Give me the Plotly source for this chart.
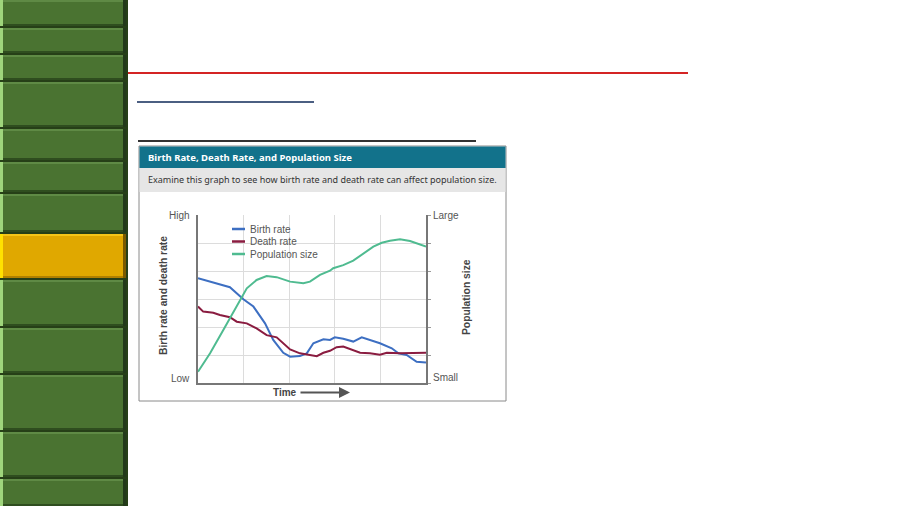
import plotly.graph_objects as go

W, H = 900, 506

# ---- data (x = time 0-100, y = relative level 0-6) ----
birth_x = [0, 8.2, 14.0, 19.9, 24.3, 29.4, 33.0, 37.4, 40.4, 44.7, 47.7, 50.6, 55.0, 57.9,
           60.0, 63.7, 68.1, 71.8, 75.4, 79.8, 85.0, 87.9, 91.5, 95.9, 100]
birth_y = [3.74, 3.56, 3.42, 2.99, 2.73, 2.13, 1.54, 1.08, 0.94, 0.96, 1.06, 1.42, 1.56, 1.54,
           1.63, 1.58, 1.48, 1.63, 1.54, 1.42, 1.24, 1.06, 1.00, 0.76, 0.73]

death_x = [0, 2.3, 6.7, 9.6, 14.0, 17.0, 21.4, 25.7, 30.1, 34.5, 40.4, 44.7, 52.1, 55.0,
           57.9, 60.8, 63.7, 66.7, 71.1, 75.4, 79.8, 82.8, 88.6, 100]
death_y = [2.73, 2.55, 2.51, 2.43, 2.35, 2.19, 2.13, 1.95, 1.71, 1.63, 1.20, 1.06, 0.96, 1.08,
           1.15, 1.28, 1.30, 1.20, 1.08, 1.06, 1.01, 1.08, 1.06, 1.08]

pop_x = [0, 5.3, 11.1, 17.0, 21.4, 25.7, 30.1, 34.5, 40.4, 46.2, 49.1, 53.5, 57.9, 59.3,
         63.7, 68.1, 72.5, 76.9, 80.6, 84.2, 88.6, 93.0, 100]
pop_y = [0.40, 1.06, 1.89, 2.73, 3.38, 3.68, 3.82, 3.78, 3.62, 3.56, 3.62, 3.86, 4.01, 4.10,
         4.21, 4.37, 4.63, 4.87, 5.01, 5.08, 5.13, 5.07, 4.87]

series_names = ["Birth rate", "Death rate", "Population size"]
series_colors = ["#3d6fc2", "#8a1c40", "#4fbb90"]

left_labels = ["High", "Low"]
right_labels = ["Large", "Small"]
title_text = "Birth Rate, Death Rate, and Population Size"
subtitle_text = "Examine this graph to see how birth rate and death rate can affect population size."

# sidebar button extents (pixels)
buttons = [(0, 26), (28, 53), (55, 80), (82, 127), (129, 160), (162, 192), (194, 232),
           (234, 278), (280, 326), (328, 373), (375, 430), (432, 477), (479, 506)]
active_button = 7


def px(x):
    return x / W


def py(y):
    return 1 - y / H


shapes = []
annotations = []


def rect(x0, y0, x1, y1, fill, line=None, lw=0, layer="above"):
    shapes.append(dict(type="rect", xref="paper", yref="paper",
                       x0=px(x0), x1=px(x1), y0=py(y1), y1=py(y0),
                       fillcolor=fill, line=dict(color=line or fill, width=lw), layer=layer))


def hline(x0, x1, y, color, w):
    shapes.append(dict(type="line", xref="paper", yref="paper",
                       x0=px(x0), x1=px(x1), y0=py(y), y1=py(y),
                       line=dict(color=color, width=w)))


def text(x, y, s, size, color, xanchor="left", bold=False, angle=0, family="Liberation Sans"):
    annotations.append(dict(xref="paper", yref="paper", x=px(x), y=py(y), text=("<b>%s</b>" % s) if bold else s,
                            showarrow=False, xanchor=xanchor, yanchor="middle", textangle=angle,
                            font=dict(size=size, color=color, family=family)))


# ---- sidebar ----
rect(0, 0, 128, 506, "#263f17", layer="below")
for i, (y0, y1) in enumerate(buttons):
    if i == active_button:
        base, hi, lo, side = "#e0a800", "#f5c518", "#b08000", "#ffe100"
    else:
        base, hi, lo, side = "#4a7331", "#5f8a45", "#2f4d1f", "#9fd57c"
    rect(0, y0, 126, y1, base, layer="below")
    rect(0, y0, 126, y0 + 2, hi, layer="below")
    rect(0, y1 - 2, 126, y1, lo, layer="below")
    rect(0, y0, 3, y1, side, layer="below")
    rect(123, y0, 126, y1, "#22391a" if i != active_button else "#7a5a00", layer="below")

# ---- slide lines ----
hline(128, 688, 73, "#d42424", 2)
hline(137, 314, 102, "#4b5f82", 2)
hline(138, 476, 141, "#333333", 2)

# ---- chart frame ----
rect(139, 146, 506, 401, "white", "#8a8a8a", 1, layer="below")
rect(139.5, 146.5, 505.5, 168, "#12728b", layer="below")
rect(139.5, 168, 505.5, 192, "#e6e6e6", layer="below")
text(146, 157.5, title_text, 9.5, "white", bold=True, family="Noto Sans")
text(146, 180, subtitle_text, 9, "#333333", family="Noto Sans")

# axis end labels
text(192, 215, left_labels[0], 10, "#555555", xanchor="right")
text(192, 378, left_labels[1], 10, "#555555", xanchor="right")
text(431, 215, right_labels[0], 10, "#555555")
text(431, 377, right_labels[1], 10, "#555555")
text(163, 296, "Birth rate and death rate", 10.3, "#444444", xanchor="center", bold=True, angle=-90)
text(466, 297, "Population size", 10.3, "#444444", xanchor="center", bold=True, angle=-90)
text(285, 392, "Time", 10, "#444444", xanchor="center", bold=True)
annotations.append(dict(xref="paper", yref="paper", axref="pixel", ayref="pixel",
                        x=px(350), y=py(392.5), ax=-51, ay=0, text="",
                        showarrow=True, arrowhead=2, arrowsize=1, arrowwidth=2.2, arrowcolor="#555555"))

# legend (drawn manually)
for i, (name, col) in enumerate(zip(series_names, series_colors)):
    yy = 229 + i * 12.5
    hline(232, 245, yy, col, 2.5)
    text(248, yy, name, 10, "#555555")

fig = go.Figure()
for xs, ys, col, name in [(birth_x, birth_y, series_colors[0], series_names[0]),
                          (death_x, death_y, series_colors[1], series_names[1]),
                          (pop_x, pop_y, series_colors[2], series_names[2])]:
    fig.add_trace(go.Scatter(x=xs, y=ys, mode="lines", name=name,
                             line=dict(color=col, width=2),
                             showlegend=False, hoverinfo="skip"))
fig.add_trace(go.Scatter(x=[0], y=[0], yaxis="y2", mode="markers", marker=dict(opacity=0),
                         showlegend=False, hoverinfo="skip"))

fig.update_layout(
    width=W, height=H, margin=dict(l=0, r=0, t=0, b=0),
    paper_bgcolor="white", plot_bgcolor="white",
    xaxis=dict(domain=[px(198), px(426)], range=[0, 100], dtick=20, showgrid=True,
               gridcolor="#dcdcdc", gridwidth=1, zeroline=False, showline=True,
               linecolor="#777777", linewidth=2, showticklabels=False, ticks=""),
    yaxis=dict(domain=[py(383), py(215)], range=[0, 6], dtick=1, showgrid=True,
               gridcolor="#dcdcdc", gridwidth=1, zeroline=False, showline=True,
               linecolor="#777777", linewidth=2, showticklabels=False, ticks=""),
    yaxis2=dict(overlaying="y", side="right", range=[0, 6], dtick=1, showgrid=False,
                zeroline=False, showline=True, linecolor="#777777", linewidth=2,
                showticklabels=False, ticks="outside", ticklen=3, tickcolor="#999999"),
    shapes=shapes, annotations=annotations,
)

fig.write_html("out.html")
